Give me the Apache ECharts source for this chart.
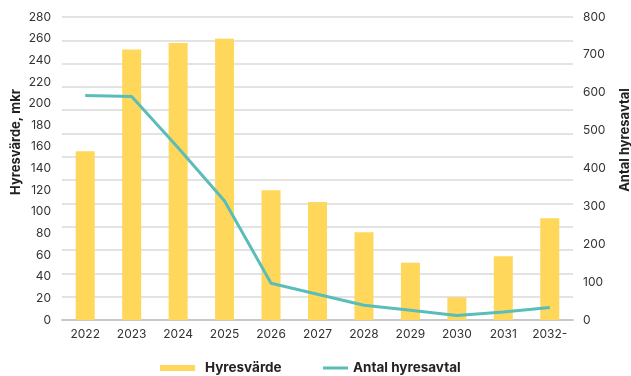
<!DOCTYPE html>
<html>
<head>
<meta charset="utf-8">
<script src="https://cdn.jsdelivr.net/npm/echarts@6/dist/echarts.min.js"></script>
<style>
  html, body { margin: 0; padding: 0; background: #fff; }
  #chart { width: 631px; height: 376px; }
</style>
</head>
<body>
<div id="chart"></div>
<script>
var years = ['2022', '2023', '2024', '2025', '2026', '2027', '2028', '2029', '2030', '2031', '2032-'];
var hyresvarde = [156, 250, 256, 260, 120, 109, 81, 53, 21, 59, 94];
var antalAvtal = [593, 590, 455, 314, 97, 68, 39, 26, 12, 21, 33];
var leftTicks = [0, 280, 20];
var rightTicks = [0, 800, 100];

var chart = echarts.init(document.getElementById('chart'));
var font = 'Inter, "Noto Sans", sans-serif';

chart.setOption({
  animation: false,
  textStyle: {fontFamily: font},
  grid: {left: 62, right: 58, top: 17, bottom: 56},
  legend: [
    {
      data: [{name: 'Hyresvärde', icon: 'rect'}],
      left: 155, top: 356,
      itemWidth: 35, itemHeight: 6,
      textStyle: {fontSize: 13.5, fontWeight: 'bold', color: '#222', fontFamily: font, padding: [0, 0, 0, 5]}
    },
    {
      data: [{name: 'Antal hyresavtal', icon: 'rect'}],
      left: 318, top: 356,
      itemWidth: 25, itemHeight: 3,
      textStyle: {fontSize: 13.5, fontWeight: 'bold', color: '#222', fontFamily: font}
    }
  ],
  graphic: [
    {
      type: 'text', x: 16, y: 142, rotation: Math.PI / 2,
      style: {text: 'Hyresvärde, mkr', font: 'bold 13px ' + font, fill: '#222', textAlign: 'center', textVerticalAlign: 'middle'}
    },
    {
      type: 'text', x: 625, y: 140, rotation: Math.PI / 2,
      style: {text: 'Antal hyresavtal', font: 'bold 13px ' + font, fill: '#222', textAlign: 'center', textVerticalAlign: 'middle'}
    }
  ],
  xAxis: {
    type: 'category',
    data: years,
    axisTick: {show: false},
    axisLine: {lineStyle: {color: '#c8c8c8', width: 2}},
    axisLabel: {fontSize: 12, color: '#333', margin: 8}
  },
  yAxis: [
    {
      type: 'value',
      min: leftTicks[0], max: leftTicks[1], interval: leftTicks[2],
      axisLine: {show: false}, axisTick: {show: false},
      splitLine: {show: false},
      axisLabel: {fontSize: 12, color: '#333', margin: 11}
    },
    {
      type: 'value', position: 'right',
      min: rightTicks[0], max: rightTicks[1], interval: rightTicks[2],
      axisLine: {show: false}, axisTick: {show: false},
      splitLine: {show: false},
      axisLabel: {fontSize: 12, color: '#333', margin: 10}
    },
    {
      // gridlines only
      type: 'value', min: 0, max: 13, interval: 1,
      axisLine: {show: false}, axisTick: {show: false}, axisLabel: {show: false},
      splitLine: {lineStyle: {color: '#dadada', width: 1.5}}
    }
  ],
  series: [
    {
      name: 'Hyresvärde',
      type: 'bar',
      data: hyresvarde,
      barWidth: 19,
      itemStyle: {color: '#FFD75A'},
      z: 2
    },
    {
      name: 'Antal hyresavtal',
      type: 'line',
      yAxisIndex: 1,
      data: antalAvtal,
      symbol: 'none',
      lineStyle: {color: '#5BBDBA', width: 3},
      itemStyle: {color: '#5BBDBA'},
      z: 3
    }
  ]
});
</script>
</body>
</html>
